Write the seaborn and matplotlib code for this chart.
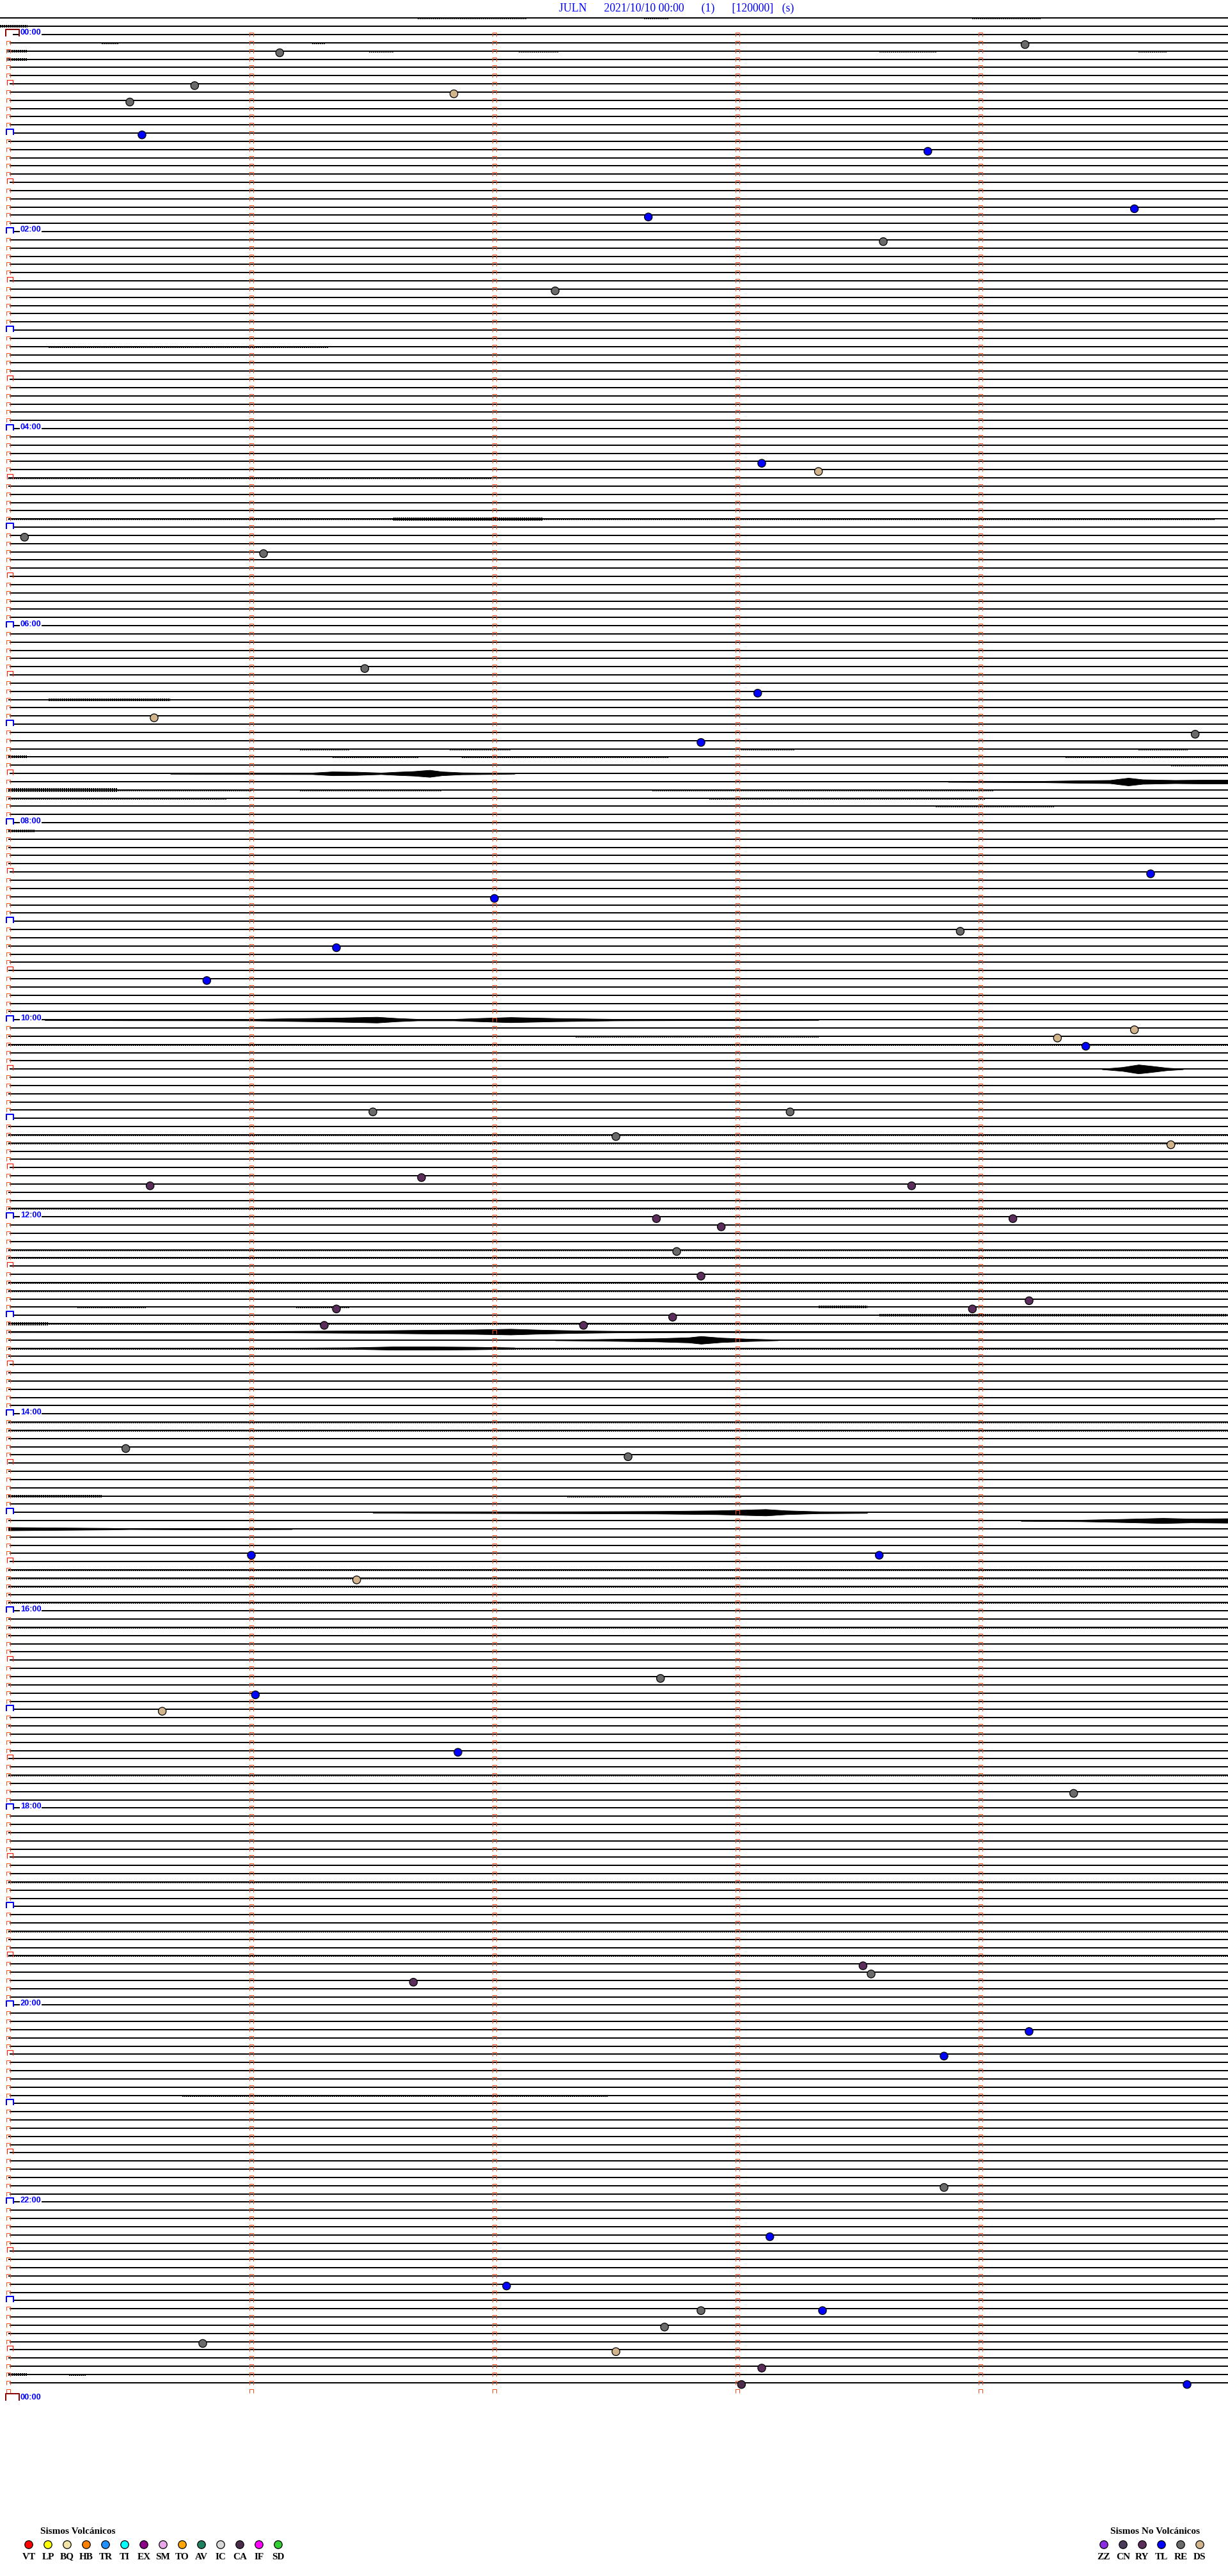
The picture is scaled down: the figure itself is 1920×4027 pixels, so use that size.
import matplotlib
matplotlib.use("Agg")
import matplotlib.pyplot as plt
from matplotlib.path import Path
import numpy as np
import pandas as pd
import seaborn as sns

sns.set_theme(style="white")
plt.rcParams["font.family"] = ["Liberation Serif", "DejaVu Serif"]
plt.rcParams["lines.scale_dashes"] = False

# ---------------------------------------------------------------------------
# Datos
# ---------------------------------------------------------------------------
STATION = "JULN"
START = "2021/10/10 00:00"
TITLE = f"{STATION}      {START}      (1)      [120000]   (s)"

# eventos clasificados (hora, tipo)
EVENT_TIMES = [
    "00:09:11", "00:11:07", "00:30:46", "00:36:50", "00:40:30", "01:00:33",
    "01:13:47", "01:49:38", "01:52:38", "02:08:36", "02:37:15", "04:23:06",
    "04:28:20", "05:05:04", "05:16:03", "06:26:28", "06:43:05", "06:55:36",
    "07:09:53", "07:12:51", "08:34:42", "08:47:00", "09:08:55", "09:16:21",
    "09:35:49", "10:09:38", "10:14:19", "10:19:26", "10:56:30", "10:58:13",
    "11:12:30", "11:19:47", "11:36:42", "11:40:35", "11:43:43", "12:02:40",
    "12:04:08", "12:07:56", "12:22:45", "12:37:51", "12:54:12", "12:56:21",
    "12:58:58", "13:02:44", "13:06:18", "13:07:22", "14:20:29", "14:27:33",
    "15:26:00", "15:28:35", "15:41:26", "16:42:41", "16:51:01", "17:00:38",
    "17:26:51", "17:54:23", "19:38:31", "19:43:33", "19:46:40", "20:19:12",
    "20:33:51", "21:53:51", "22:23:08", "22:52:03", "23:07:51", "23:08:21",
    "23:17:42", "23:25:48", "23:32:30", "23:43:06", "23:53:01", "23:54:51",
]
EVENT_TYPES = [
    "RE", "RE", "RE", "DS", "RE", "TL",
    "TL", "TL", "TL", "RE", "RE", "TL",
    "DS", "RE", "RE", "RE", "TL", "DS",
    "RE", "TL", "TL", "TL", "RE", "TL",
    "TL", "DS", "DS", "TL", "RE", "RE",
    "RE", "DS", "RY", "RY", "RY", "RY",
    "RY", "RY", "RE", "RY", "RY", "RY",
    "RY", "RY", "RY", "RY", "RE", "RE",
    "TL", "TL", "DS", "RE", "TL", "DS",
    "TL", "RE", "RY", "RE", "RY", "TL",
    "TL", "RE", "TL", "TL", "RE", "TL",
    "RE", "RE", "DS", "RY", "CA", "TL",
]

VOLC_TYPES = ["VT", "LP", "BQ", "HB", "TR", "TI", "EX", "SM", "TO", "AV", "IC", "CA", "IF", "SD"]
VOLC_COLORS = ["#ff0000", "#ffff00", "#f2e4a6", "#ff8000", "#1e90ff", "#00ffff", "#880088",
               "#e8a8e8", "#ffa500", "#1f7f5f", "#d8d8d8", "#4b2d4b", "#ff00ff", "#32cd32"]
NONV_TYPES = ["ZZ", "CN", "RY", "TL", "RE", "DS"]
NONV_COLORS = ["#8a2be2", "#4b3b5b", "#5a2d5a", "#0000ff", "#6a6a6a", "#d2b48c"]

# tramos con ruido: (bloque de 5 min, seg. inicio, seg. fin, amplitud px)
NOISE = [
    ("-0:10", 101, 128, 0.6), ("-0:10", 157, 163, 0.6), ("-0:10", 238, 255, 0.6),
    ("-0:05", -2, 4.7, 1), ("-0:05", 192, 268, 0.5),
    ("00:05", 23, 27, 0.6), ("00:05", 75, 78, 0.6),
    ("00:10", -0.5, 4.7, 1), ("00:10", 89, 95, 0.6), ("00:10", 126, 136, 0.6),
    ("00:10", 215, 229, 0.6), ("00:10", 279, 286, 0.6),
    ("00:15", -0.5, 4.7, 1), ("00:15", 35, 62, 0.5), ("00:15", 134, 163, 0.5),
    ("00:15", 190, 301, 0.4),
    ("01:05", 0, 113, 0.5), ("01:20", 71, 99, 0.5), ("01:20", 225, 241, 0.5),
    ("02:05", 124, 144, 0.5), ("02:45", 87, 111, 0.5), ("02:45", 221, 249, 0.5),
    ("03:10", 10, 79, 0.7), ("03:35", 172, 282, 0.5), ("04:05", 188, 225, 0.5),
    ("04:30", 0, 119, 0.7), ("04:30", 241, 282, 0.5), ("04:35", 0, 95, 0.5),
    ("04:55", 0, 298, 0.6), ("04:55", 95, 132, 1.5), ("05:00", 40, 200, 0.5),
    ("05:05", 152, 290, 0.5), ("05:20", 168, 200, 0.5), ("05:35", 265, 298, 0.5),
    ("06:05", 55, 95, 0.5), ("06:45", 0, 298, 0.4), ("06:45", 10, 40, 1.2),
    ("07:15", 72, 84, 0.6), ("07:15", 109, 124, 0.6), ("07:15", 181, 194, 0.6),
    ("07:15", 279, 291, 0.6),
    ("07:20", 0, 4.7, 1.2), ("07:20", 80, 101, 0.6), ("07:20", 112, 163, 0.6),
    ("07:20", 261, 301, 0.6), ("07:25", 287, 301, 0.6),
    ("07:40", 0, 27, 2), ("07:40", 27, 60, 0.6), ("07:40", 72, 107, 0.7),
    ("07:40", 159, 243, 0.6),
    ("07:45", 0, 54, 0.7), ("07:45", 173, 241, 0.6), ("07:50", 229, 258, 0.6),
    ("08:05", 0, 6.6, 1.2), ("08:05", 6.6, 38, 0.5), ("08:10", 0, 43, 0.5),
    ("08:15", 0, 30, 0.5), ("08:15", 52, 64, 0.5), ("08:15", 160, 301, 0.4),
    ("08:20", 53, 301, 0.4), ("08:25", 0, 21, 0.5),
    ("09:10", 160, 301, 0.5), ("09:15", 0, 301, 0.5), ("09:30", 0, 200, 0.4),
    ("09:55", 0, 301, 0.4), ("10:05", 240, 260, 0.5), ("10:10", 0, 301, 0.4),
    ("10:10", 140, 200, 0.6), ("10:15", 0, 301, 0.7), ("10:35", 30, 120, 0.4),
    ("10:45", 0, 301, 0.5), ("10:50", 100, 250, 0.5), ("11:05", 0, 120, 0.5),
    ("11:10", 0, 301, 0.8), ("11:15", 0, 301, 0.8), ("11:25", 80, 250, 0.5),
    ("11:45", 0, 301, 0.5), ("11:55", 0, 301, 0.8), ("12:10", 60, 200, 0.5),
    ("12:20", 0, 301, 0.6), ("12:25", 0, 301, 0.8), ("12:30", 150, 301, 0.5),
    ("12:40", 0, 301, 0.8), ("12:45", 0, 301, 0.6),
    ("12:55", 17, 34, 0.8), ("12:55", 71, 84, 0.8), ("12:55", 130, 212, 0.5),
    ("12:55", 200, 212, 1.2),
    ("13:00", 215, 301, 1.2), ("13:05", 0, 301, 0.8), ("13:05", 0, 10, 1.5),
    ("13:15", 0, 301, 0.4), ("13:20", 0, 301, 0.6), ("13:25", 0, 10, 0.5),
    ("13:35", 0, 301, 0.5), ("13:40", 0, 301, 0.5), ("13:45", 0, 301, 0.5),
    ("13:55", 60, 250, 0.5), ("14:05", 0, 301, 0.6), ("14:10", 0, 301, 0.6),
    ("14:15", 0, 200, 0.5), ("14:30", 0, 301, 0.5), ("14:35", 0, 301, 0.5),
    ("14:40", 100, 301, 0.5),
    ("14:50", 0, 23, 1.2), ("14:50", 138, 181, 0.6), ("14:55", 214, 301, 0.5),
    ("15:05", 0, 301, 0.4), ("15:10", 0, 89, 0.5), ("15:10", 169, 215, 0.5),
    ("15:15", 11, 111, 0.5), ("15:15", 249, 301, 0.5), ("15:20", 122, 153, 0.5),
    ("15:35", 0, 301, 0.8), ("15:40", 0, 301, 0.6), ("15:45", 0, 301, 0.8),
    ("15:50", 0, 301, 0.5), ("15:55", 0, 301, 0.6), ("16:05", 0, 301, 0.5),
    ("16:10", 0, 301, 0.8), ("16:15", 0, 301, 0.5),
    ("16:30", 50, 250, 0.5), ("16:45", 0, 301, 0.5), ("17:10", 0, 301, 0.5),
    ("17:15", 100, 250, 0.5), ("17:30", 0, 200, 0.5), ("17:40", 0, 301, 0.6),
    ("17:45", 150, 301, 0.5), ("18:15", 0, 301, 0.5), ("18:30", 100, 250, 0.5),
    ("18:45", 0, 301, 0.6), ("18:55", 50, 200, 0.5), ("19:15", 0, 301, 0.8),
    ("19:20", 0, 301, 0.5), ("19:30", 0, 301, 0.8), ("19:35", 180, 301, 0.5),
    ("19:50", 50, 200, 0.5), ("20:05", 60, 280, 0.5), ("20:20", 0, 301, 0.5),
    ("20:35", 100, 200, 0.5), ("20:55", 43, 148, 0.8), ("21:20", 0, 150, 0.5),
    ("21:30", 100, 250, 0.5), ("21:45", 0, 301, 0.5), ("22:05", 150, 301, 0.5),
    ("22:35", 0, 200, 0.5), ("22:45", 0, 301, 0.5), ("23:00", 50, 250, 0.5),
    ("23:20", 0, 150, 0.5), ("23:35", 0, 301, 0.5),
    ("23:45", 0, 4.6, 1), ("23:45", 15, 19, 0.6),
]

# envolventes de los sismos grandes: (bloque, [seg...], [amplitud px...])
BURST_ROWS = ["07:30", "07:35", "10:00", "10:30", "13:10", "13:15", "13:20",
              "15:00", "15:05", "15:10"]
BURST_T = [
    [40, 60, 75, 80, 86, 92, 96, 100, 104, 107, 112, 120, 125],
    [232, 255, 265, 272, 276.5, 280, 288, 295, 301],
    [9, 30, 60, 68, 80, 91, 96, 101, 110, 116, 124, 135, 150, 170, 200],
    [270, 275, 279, 282, 286, 290],
    [0, 60, 70, 90, 105, 115, 124, 132, 140, 150, 170, 301],
    [135, 145, 160, 168, 171, 176, 182, 190],
    [70, 85, 95, 105, 115, 125],
    [90, 100, 140, 160, 175, 187, 192, 200, 212],
    [250, 265, 275, 285, 292, 301],
    [0, 10, 25, 30, 45, 70],
]
BURST_A = [
    [0.6, 1, 1.2, 3, 2.5, 1.2, 2.5, 3.5, 5.5, 3, 1.5, 1, 0.5],
    [0.5, 1, 2, 2.5, 6, 3.5, 2.5, 3, 3],
    [0.6, 1, 1.2, 2, 3, 4.5, 2.5, 1.2, 1.2, 2.5, 4, 2.5, 1.2, 0.8, 0.5],
    [0.4, 3, 7, 5, 2, 0.4],
    [0.7, 0.9, 1.2, 2, 3, 3.5, 4.5, 3, 2, 1.2, 0.9, 0.7],
    [0.6, 1.2, 2.5, 4, 6, 3.5, 2, 0.6],
    [0.6, 1.2, 2.5, 2.5, 2, 1],
    [0.6, 1, 1.5, 2, 3, 5, 3, 1.5, 1],
    [0.6, 1.2, 2.5, 4, 3, 3.5],
    [2.5, 2, 1.2, 0.6, 1, 0.6],
]

# ---------------------------------------------------------------------------
# Geometría del helicorder (píxeles de la imagen)
# ---------------------------------------------------------------------------
W, H, DPI = 1920, 4027, 100
PT = 72 / DPI                 # puntos por píxel
ROW0_Y, ROW_DY = 54.0, 12.835  # línea de las 00:00 y separación entre líneas
T0_X, PX_S = 13.0, 380 / 60    # x del segundo 0 y píxeles por segundo
ROW_SEC = 300
N_ROWS = 288


def fila(hhmm):
    neg = hhmm.startswith("-")
    h, m = hhmm.lstrip("-").split(":")
    r = int(h) * 12 + int(m) // 5
    return -r if neg else r


def segundos(hhmmss):
    h, m, s = (int(v) for v in hhmmss.split(":"))
    return h * 3600 + m * 60 + s


def bracket(w, up, down):
    verts = [(-w / 2, -down), (-w / 2, up), (w / 2, up), (w / 2, -down)]
    path = Path(verts, [Path.MOVETO, Path.LINETO, Path.LINETO, Path.LINETO])
    return path, 2 * max(w / 2, up, down) * PT


fig = plt.figure(figsize=(W / DPI, H / DPI), dpi=DPI)
ax = fig.add_axes([0, 0, 1, 1])
ax.set_xlim(-T0_X / PX_S, (W - T0_X) / PX_S)
ax.set_ylim((H - ROW0_Y) / ROW_DY, -ROW0_Y / ROW_DY)
ax.axis("off")

t_left = -T0_X / PX_S
t_right = (W - T0_X) / PX_S

# líneas base
for r in range(-2, N_ROWS - 1):
    if r < 0:
        x0 = t_left
    elif r % 24 == 0:
        x0 = (65 - T0_X) / PX_S
        ax.plot([(21 - T0_X) / PX_S, (30 - T0_X) / PX_S], [r, r], color="black",
                lw=1.5 * PT, antialiased=False)
    elif r % 12 == 0:
        x0 = (21 - T0_X) / PX_S
    else:
        x0 = 0.3
    ax.plot([x0, t_right], [r, r], color="black", lw=1.5 * PT, solid_capstyle="butt",
            antialiased=False, zorder=2)

# ruido
for hhmm, t0, t1, amp in NOISE:
    r = fila(hhmm)
    ax.plot([t0, t1], [r, r], color="black", lw=(1.5 + 2 * amp) * PT,
            solid_capstyle="butt", dashes=(1.1, 1.3), antialiased=False, zorder=2)

# sismos grandes
for hhmm, ts, amps in zip(BURST_ROWS, BURST_T, BURST_A):
    r = fila(hhmm)
    ts = np.array(ts, dtype=float)
    a = np.array(amps, dtype=float) / ROW_DY
    ax.fill_between(ts, r - a, r + a, color="black", lw=0.6, edgecolor="black", zorder=3)

# marcas de minuto
small, small_sz = bracket(6, 3, 2.5)
red, red_sz = bracket(9, 6, 2)
blue, blue_sz = bracket(11, 6, 2.5)
dark, dark_sz = bracket(21, 8, 3)

rows_all = np.arange(0, N_ROWS)
for minute in range(1, 5):
    ax.plot(np.full(len(rows_all), minute * 60.0), rows_all, ls="none", marker=small,
            ms=small_sz, mfc="none", mec="#ff4a10", mew=1.0 * PT, zorder=4)

col0 = [r for r in range(0, N_ROWS) if r % 6 != 0]
ax.plot(np.zeros(len(col0)), col0, ls="none", marker=small, ms=small_sz, mfc="none",
        mec="#ff4a10", mew=1.0 * PT, zorder=4)
half = [r for r in range(0, N_ROWS) if r % 6 == 0 and r % 12 != 0]
ax.plot(np.full(len(half), 0.24), half, ls="none", marker=red, ms=red_sz, mfc="none",
        mec="#ff1a00", mew=1.2 * PT, zorder=4)
hours = [r for r in range(12, N_ROWS) if r % 12 == 0]
ax.plot(np.full(len(hours), 0.3), hours, ls="none", marker=blue, ms=blue_sz, mfc="none",
        mec="#0000ff", mew=2.0 * PT, zorder=4)
ax.plot([1.0, 1.0], [0, N_ROWS], ls="none", marker=dark, ms=dark_sz, mfc="none",
        mec="#8b0000", mew=2.0 * PT, zorder=4)

# etiquetas horarias
for r in range(0, N_ROWS + 1, 24):
    ax.text((32 - T0_X) / PX_S, r - 0.2, f"{(r // 12) % 24:02d}:00", color="#0000ff",
            fontsize=9.2, fontweight="bold", family=["Liberation Sans", "DejaVu Sans"],
            ha="left", va="center", zorder=5)

# eventos
ev = pd.DataFrame({"hora": EVENT_TIMES, "tipo": EVENT_TYPES})
ev["seg"] = ev["hora"].map(segundos)
ev["fila"] = ev["seg"] // ROW_SEC + 0.22
ev["t"] = ev["seg"] % ROW_SEC
palette = dict(zip(VOLC_TYPES + NONV_TYPES, VOLC_COLORS + NONV_COLORS))
sns.scatterplot(data=ev, x="t", y="fila", hue="tipo", palette=palette, s=78,
                edgecolor="black", linewidth=0.9, legend=False, ax=ax, zorder=6)

# título
fig.text(1058 / W, 1 - 13 / H, TITLE, color="#0000ff", fontsize=12.8,
         ha="center", va="center")

# leyendas
lax = fig.add_axes([0, 0, 1, 1], facecolor="none")
lax.set_xlim(0, W)
lax.set_ylim(H, 0)
lax.axis("off")

leg_v = pd.DataFrame({"tipo": VOLC_TYPES, "x": 45 + 30 * np.arange(len(VOLC_TYPES)), "y": 3978})
leg_n = pd.DataFrame({"tipo": NONV_TYPES, "x": 1726 + 30 * np.arange(len(NONV_TYPES)), "y": 3978})
for leg in (leg_v, leg_n):
    sns.scatterplot(data=leg, x="x", y="y", hue="tipo", palette=palette, s=80,
                    edgecolor="black", linewidth=0.9, legend=False, ax=lax)
    for _, row in leg.iterrows():
        lax.text(row["x"], 3997, row["tipo"], ha="center", va="center",
                 fontsize=11, fontweight="bold", color="black")
lax.text(63, 3957, "Sismos Volcánicos", ha="left", va="center", fontsize=11,
         fontweight="bold", color="black")
lax.text(1806, 3957, "Sismos No Volcánicos", ha="center", va="center", fontsize=11,
         fontweight="bold", color="black")

fig.savefig("out.png", dpi=DPI, facecolor="white")
